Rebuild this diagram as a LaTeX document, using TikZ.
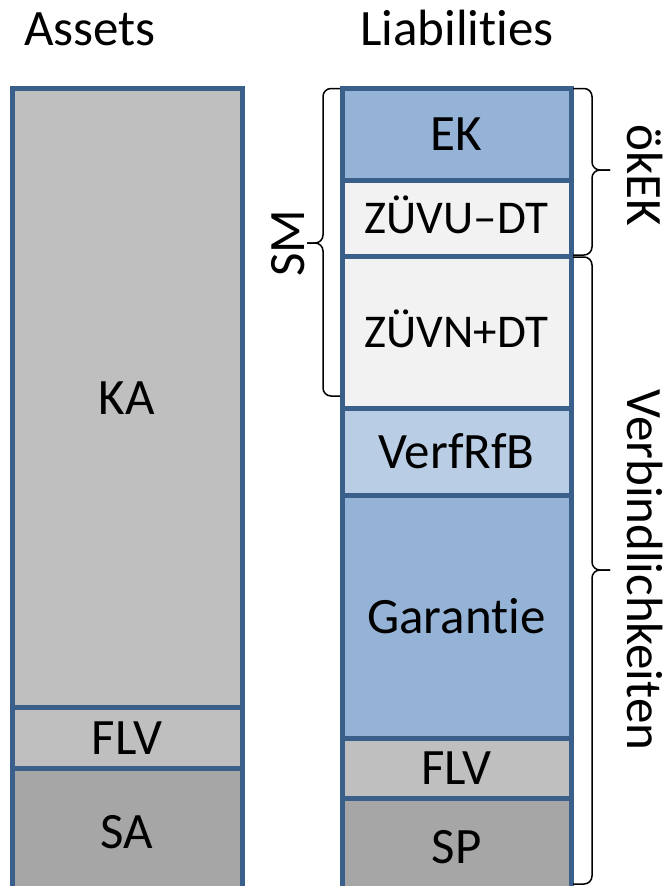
\documentclass[tikz,border=0pt]{standalone}
\usepackage{fontspec}
\setmainfont{Carlito}[Ligatures={NoCommon}]
\usetikzlibrary{positioning,calc}

\definecolor{frameblue}{HTML}{3A5F8B}
\definecolor{ekblue}{HTML}{95B3D7}
\definecolor{rfbblue}{HTML}{B9CDE5}
\definecolor{zuevgray}{HTML}{F2F2F2}
\definecolor{kagray}{HTML}{BFBFBF}
\definecolor{sagray}{HTML}{A6A6A6}

\begin{document}
\begin{tikzpicture}[
    x=1pt, y=-1pt,
    big/.style={font=\fontsize{51}{60}\selectfont},
    seg/.style={
        rectangle,
        draw=frameblue,
        line width=5pt,
        minimum width=230pt,
        outer sep=0pt,
        inner sep=0pt,
        text height=33pt,
        text depth=0pt,
        big
    },
    small/.style={font=\fontsize{47}{56}\selectfont, text height=30pt},
    title/.style={big, anchor=base, inner sep=0pt},
    bracket/.style={draw=black, line width=1.5pt, rounded corners=8pt},
    side/.style={big, anchor=base, inner sep=0pt}
]
\useasboundingbox (0,0) rectangle (670,886);

% column headings
\node[title] (assets) at (90,45) {Assets};
\node[title] (liab) at (457,45) {Liabilities};

% assets side
\node[seg, fill=kagray, minimum height=618.5pt, anchor=north] (ka) at (127,88.5) {KA};
\node[seg, fill=kagray, minimum height=61pt, below=0pt of ka] (flva) {FLV};
\node[seg, fill=sagray, minimum height=127pt, below=0pt of flva] (sa) {SA};

% liabilities side
\node[seg, fill=ekblue, minimum width=229pt, minimum height=91.5pt, anchor=north] (ek) at (456.5,88.5) {EK};
\node[seg, small, fill=zuevgray, minimum width=229pt, minimum height=76pt, below=0pt of ek] (zuevu) {ZÜVU–DT};
\node[seg, small, fill=zuevgray, minimum width=229pt, minimum height=152pt, below=0pt of zuevu] (zuevn) {ZÜVN+DT};
\node[seg, fill=rfbblue, minimum width=229pt, minimum height=87pt, below=0pt of zuevn] (rfb) {VerfRfB};
\node[seg, fill=ekblue, minimum width=229pt, minimum height=243pt, below=0pt of rfb] (gar) {Garantie};
\node[seg, fill=kagray, minimum width=229pt, minimum height=60pt, below=0pt of gar] (flvp) {FLV};
\node[seg, fill=sagray, minimum width=229pt, minimum height=97pt, below=0pt of flvp] (sp) {SP};

% brace tips and ends
\coordinate (sm-tip) at (307,243);
\coordinate (sm-end) at ($(zuevn.south west)+(-2,-12)$);
\coordinate (okek-tip) at (610,170);
\coordinate (vb-tip) at (610,570);
\coordinate (vb-end) at (573,884);

% SM brace
\draw[bracket] ($(ek.north west)+(-2,0)$) -| ($(sm-tip)+(16,0)$) -- (sm-tip);
\draw[bracket] (sm-end) -| ($(sm-tip)+(16,0)$) -- (sm-tip);
\node[side, rotate=90] (sm) at ($(sm-tip)+(-3,0)$) {SM};

% oekEK brace
\draw[bracket] ($(ek.north east)+(2,0)$) -| ($(okek-tip)+(-18,0)$) -- (okek-tip);
\draw[bracket] ($(zuevu.south east)+(2,-1)$) -| ($(okek-tip)+(-18,0)$) -- (okek-tip);
\node[side, rotate=-90] (okek) at ($(okek-tip)+(17,5)$) {ökEK};

% Verbindlichkeiten brace
\draw[bracket] ($(zuevn.north east)+(2,1)$) -| ($(vb-tip)+(-18,0)$) -- (vb-tip);
\draw[bracket] (vb-end) -| ($(vb-tip)+(-18,0)$) -- (vb-tip);
\node[side, rotate=-90] (vb) at ($(vb-tip)+(17,0)$) {Verbindlichkeiten};

\end{tikzpicture}
\end{document}
